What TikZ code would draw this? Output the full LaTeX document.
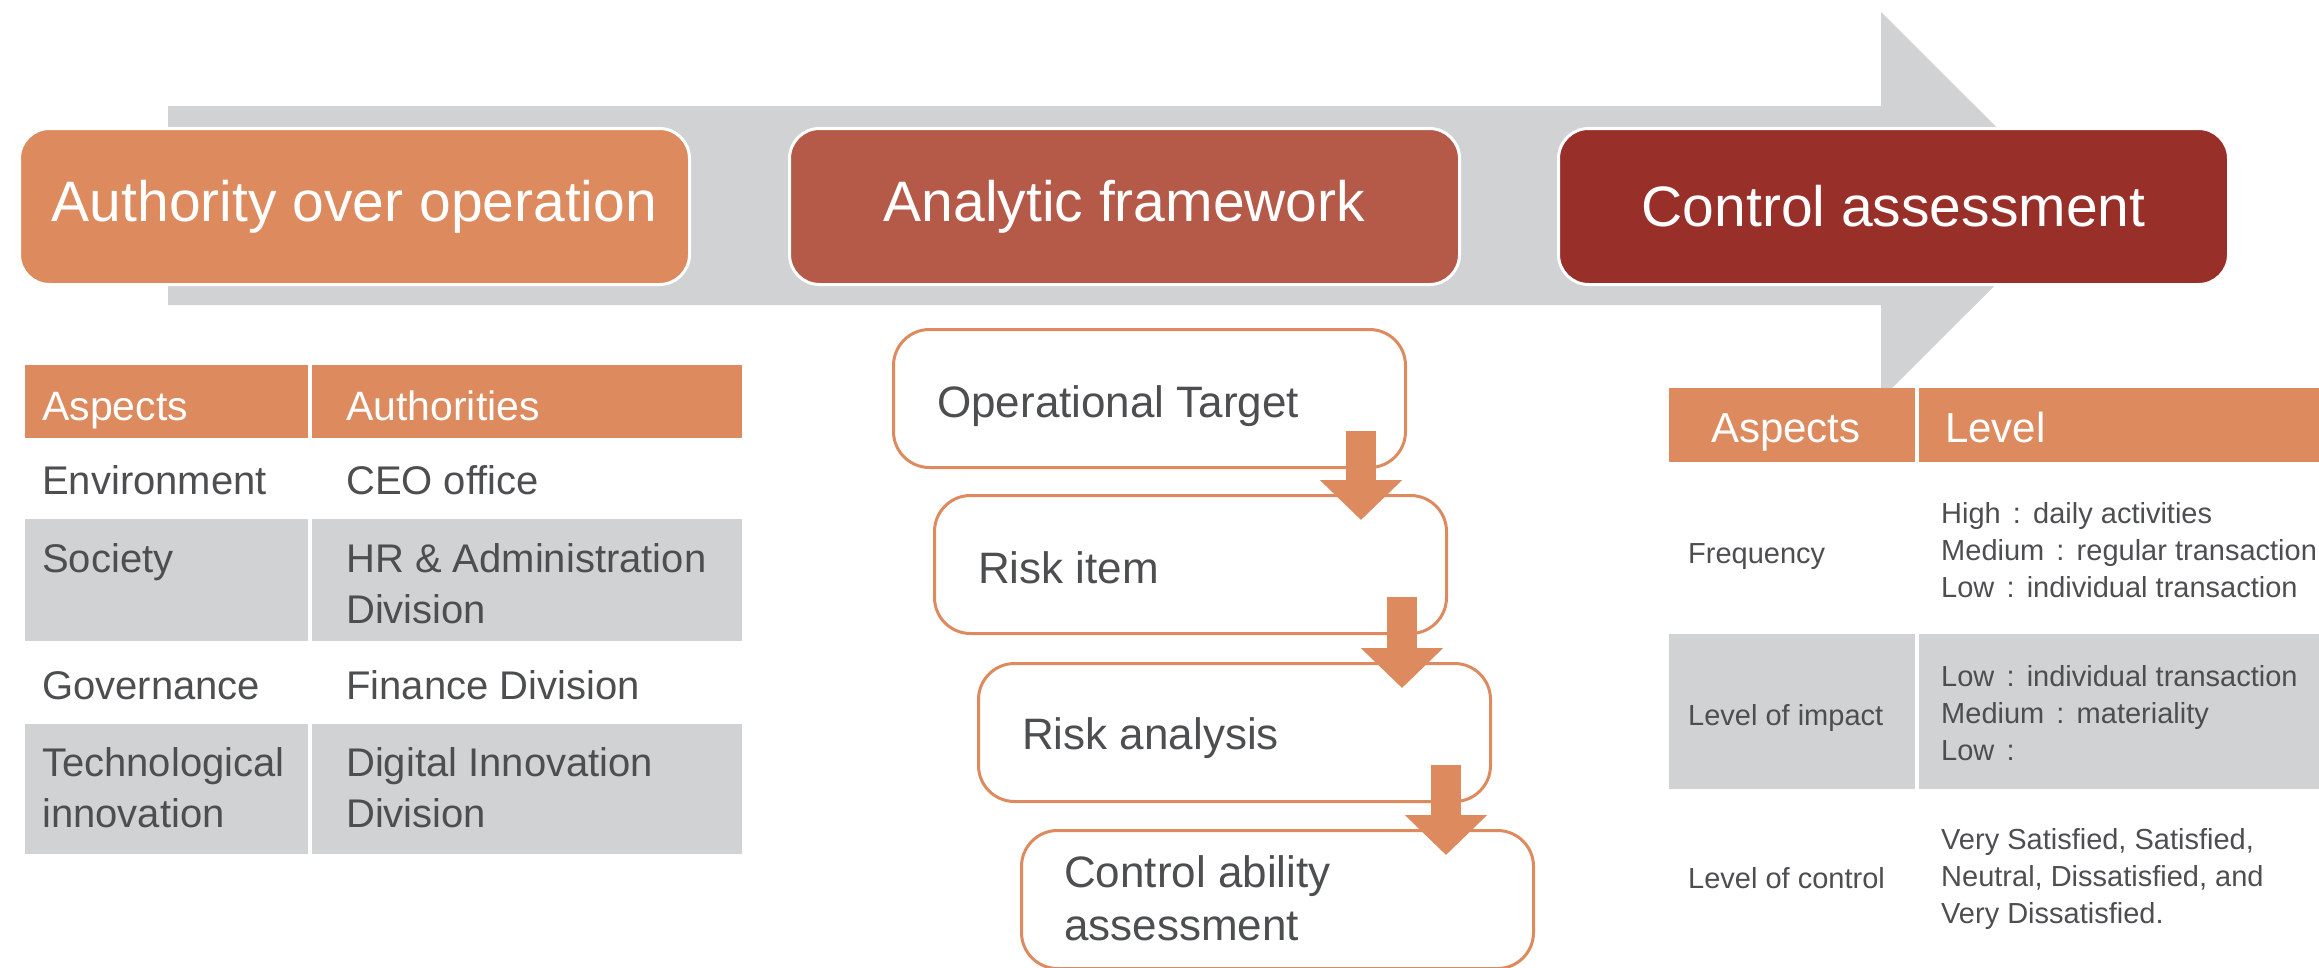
\documentclass[tikz,border=0pt]{standalone}
\usepackage{fontspec}
\setmainfont{Liberation Sans}
\usetikzlibrary{calc,arrows.meta}
\definecolor{org}{HTML}{DD8A5F}
\definecolor{rust}{HTML}{B55A48}
\definecolor{wine}{HTML}{982F29}
\definecolor{lgray}{HTML}{D1D2D4}
\definecolor{txt}{HTML}{4D4E50}
\newcommand\fcol{\hspace{0.42em}:\hspace{0.42em}}
\begin{document}
\begin{tikzpicture}[x=1pt,y=-1pt,
  stage/.style={draw=white, line width=3pt, rounded corners=30pt, text=white,
    font=\fontsize{57}{68}\selectfont, minimum width=670pt, minimum height=156pt,
    inner sep=0pt, anchor=north west},
  flowbox/.style={draw=org, line width=3pt, rounded corners=36pt, fill=white,
    minimum width=512pt, minimum height=138pt, inner sep=0pt, anchor=north west},
  flowtext/.style={text=txt, font=\fontsize{44}{53}\selectfont, inner sep=0pt, align=left},
  flowarr/.style={draw=org, line width=30pt, -{Triangle[length=40pt,width=80pt]}},
  cell/.style={inner sep=0pt, anchor=north west, draw=none},
  headtext/.style={text=white, inner sep=0pt, anchor=base west},
  ltext/.style={text=txt, inner sep=0pt, font=\fontsize{40}{51}\selectfont, align=left},
  rtext/.style={text=txt, inner sep=0pt, font=\fontsize{29}{37}\selectfont, align=left},
]
\path[use as bounding box] (0,0) rectangle (2319,967);
\clip (0,0) rectangle (2319,967);

% big gray arrow
\fill[lgray] (168,106) -- (1881,106) -- (1881,12) -- (2075,205.5) -- (1881,399)
  -- (1881,305) -- (168,305) -- cycle;

% stage boxes
\node[stage, fill=org]  (b1) at (18,127)   {Authority over operation};
\node[stage, fill=rust] (b2) at (788,127)  {Analytic framework};
\node[stage, fill=wine] (b3) at (1557,127) {Control assessment};

% left table
\node[cell, fill=org, minimum width=283pt, minimum height=73pt] (lh1) at (25,365) {};
\node[cell, fill=org, minimum width=430pt, minimum height=73pt] (lh2) at (312,365) {};
\node[cell, fill=lgray, minimum width=283pt, minimum height=122pt] (lr2a) at (25,519) {};
\node[cell, fill=lgray, minimum width=430pt, minimum height=122pt] (lr2b) at (312,519) {};
\node[cell, fill=lgray, minimum width=283pt, minimum height=130pt] (lr4a) at (25,724) {};
\node[cell, fill=lgray, minimum width=430pt, minimum height=130pt] (lr4b) at (312,724) {};

\node[headtext, font=\fontsize{41}{50}\selectfont] (lt1) at (42,420) {Aspects};
\node[headtext, font=\fontsize{41}{50}\selectfont] (lt2) at (346,420) {Authorities};
\node[ltext, anchor=base west] (lt3) at (42,494) {Environment};
\node[ltext, anchor=base west] (lt4) at (346,494) {CEO office};
\node[ltext, anchor=base west] (lt5) at (42,572) {Society};
\node[ltext, anchor=north west] (lt6) at (346,543) {HR \& Administration\\Division};
\node[ltext, anchor=base west] (lt7) at (42,699) {Governance};
\node[ltext, anchor=base west] (lt8) at (346,699) {Finance Division};
\node[ltext, anchor=north west] (lt9) at (42,747) {Technological\\innovation};
\node[ltext, anchor=north west] (lt10) at (346,747) {Digital Innovation\\Division};

% flow boxes
\node[flowbox] (fA) at (892,328)  {};
\node[flowbox] (fB) at (933,494)  {};
\node[flowbox] (fC) at (977,662)  {};
\node[flowbox] (fD) at (1020,829) {};
\node[flowtext, anchor=base west] (tA) at ($(fA.north west)+(45,89)$) {Operational Target};
\node[flowtext, anchor=base west] (tB) at ($(fB.north west)+(45,89)$) {Risk item};
\node[flowtext, anchor=base west] (tC) at ($(fC.north west)+(45,87)$) {Risk analysis};
\node[flowtext, anchor=north west] (tD) at ($(fD.north west)+(44,26)$) {Control ability\\assessment};

\coordinate (s1) at ($(fA.south east)+(-46,-38)$);
\coordinate (e1) at ($(fB.north)+(0,26)$);
\coordinate (s2) at ($(fB.south east)+(-46,-38)$);
\coordinate (e2) at ($(fC.north)+(0,26)$);
\coordinate (s3) at ($(fC.south east)+(-46,-38)$);
\coordinate (e3) at ($(fD.north)+(0,26)$);
\draw[flowarr] (s1) -- (s1 |- e1);
\draw[flowarr] (s2) -- (s2 |- e2);
\draw[flowarr] (s3) -- (s3 |- e3);

% right table
\node[cell, fill=org, minimum width=246pt, minimum height=74pt] (rh1) at (1669,388) {};
\node[cell, fill=org, minimum width=420pt, minimum height=74pt] (rh2) at (1919,388) {};
\node[cell, fill=lgray, minimum width=246pt, minimum height=155pt] (rr2a) at (1669,634) {};
\node[cell, fill=lgray, minimum width=420pt, minimum height=155pt] (rr2b) at (1919,634) {};

\node[headtext, font=\fontsize{42}{50}\selectfont] (rt1) at (1711,442) {Aspects};
\node[headtext, font=\fontsize{42}{50}\selectfont] (rt2) at (1945,442) {Level};
\node[rtext, anchor=base west] (rt3) at (1688,563) {Frequency};
\node[rtext, anchor=base west] (rt4) at (1688,725) {Level of impact};
\node[rtext, anchor=base west] (rt5) at (1688,888) {Level of control};
\node[rtext, anchor=north west] (rt6) at (1941,502)
  {High\fcol daily activities\\Medium\fcol regular transaction\\Low\fcol individual transaction};
\node[rtext, anchor=north west] (rt7) at (1941,665)
  {Low\fcol individual transaction\\Medium\fcol materiality\\Low\fcol};
\node[rtext, anchor=north west] (rt8) at (1941,828)
  {Very Satisfied, Satisfied,\\Neutral, Dissatisfied, and\\Very Dissatisfied.};
\end{tikzpicture}
\end{document}
